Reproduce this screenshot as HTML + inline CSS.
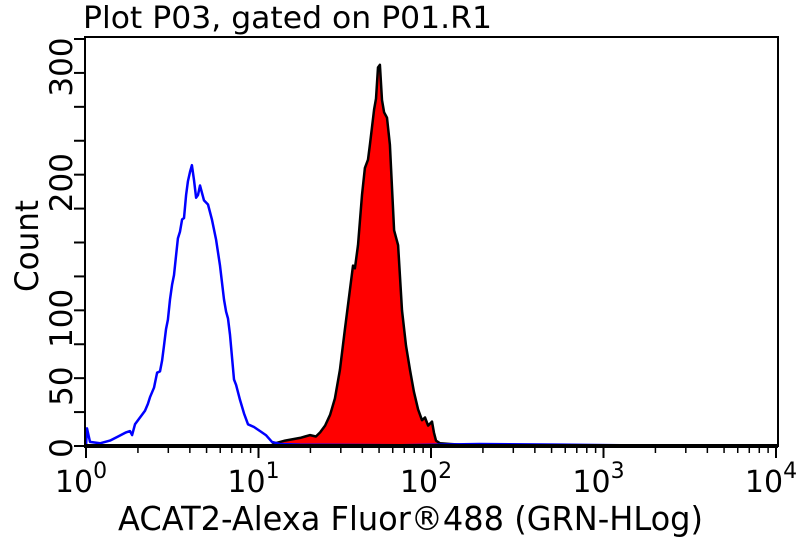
<!DOCTYPE html>
<html><head><meta charset="utf-8"><style>
html,body{margin:0;padding:0;background:#fff;}
svg{display:block;font-family:"DejaVu Sans","Liberation Sans",sans-serif;}
</style></head><body>
<svg id="chart" width="800" height="538" viewBox="0 0 800 538">
<text x="83" y="28" font-size="30" textLength="409" lengthAdjust="spacingAndGlyphs">Plot P03, gated on P01.R1</text>
<text transform="translate(38,246) rotate(-90)" text-anchor="middle" font-size="32" textLength="92" lengthAdjust="spacingAndGlyphs">Count</text>
<text x="118" y="530" font-size="33" textLength="585" lengthAdjust="spacingAndGlyphs">ACAT2-Alexa Fluor®488 (GRN-HLog)</text>
<g id="marks"></g>
<g id="axes"></g>
</svg>
<script>
const blueLogX=[0,0.006,0.023,0.081,0.139,0.186,0.232,0.255,0.267,0.284,0.313,0.342,0.359,0.371,0.394,0.412,0.429,0.441,0.452,0.464,0.475,0.487,0.499,0.510,0.522,0.533,0.545,0.557,0.568,0.580,0.591,0.603,0.614,0.626,0.638,0.649,0.661,0.684,0.707,0.730,0.754,0.777,0.800,0.812,0.823,0.835,0.858,0.870,0.893,0.916,0.939,0.974,1.009,1.043,1.078,1.125,1.24,1.82,2.28,2.75,3.1,3.56,4];
const blueCount=[0,13,3,2,4,7,10,11,8,16,21,26,31,36,43,54,55,63,74,86,93,108,119,126,140,153,158,167,168,185,195,202,207,196,183,185,192,181,178,167,152,133,108,99,94,82,49,45,34,24,16,14,11,8,3,1.5,1,0.5,1.5,1,0.5,0,0];
const redLogX=[1.067,1.096,1.154,1.241,1.27,1.299,1.333,1.357,1.386,1.415,1.443,1.472,1.501,1.530,1.548,1.559,1.577,1.6,1.617,1.635,1.646,1.670,1.681,1.693,1.704,1.716,1.728,1.745,1.762,1.786,1.809,1.832,1.855,1.878,1.901,1.925,1.948,1.965,1.983,2.006,2.017,2.029,2.052,2.11,2.17,2.23];
const redCount=[0,2,4,6,7,8,7,10,15,23,35,56,86,115,133,131,148,185,205,211,222,248,256,279,281,255,246,242,222,159,148,100,74,56,40,27,19,21,15,18,10,4,2,1.5,1,0];
const yTickLabels=[0,50,100,200,300];
const xDecades=[0,1,2,3,4];

const NS="http://www.w3.org/2000/svg";
const L=86,R=776,T=39,B=446;
const xs=v=>L+(v/4)*(R-L);
const ys=c=>B-(c/300)*(B-T);
function mk(tag,attrs,parent){const e=document.createElementNS(NS,tag);for(const k in attrs)e.setAttribute(k,attrs[k]);parent.appendChild(e);return e;}
const marks=document.getElementById('marks'),axes=document.getElementById('axes');

let rd=`M${xs(redLogX[0])},${B}`;
redLogX.forEach((v,i)=>rd+=` L${xs(v).toFixed(1)},${ys(redCount[i]).toFixed(1)}`);
rd+=` L${xs(redLogX[redLogX.length-1])},${B} Z`;
const red=mk('path',{d:rd,fill:'#ff0000',stroke:'#000','stroke-width':2.5,'stroke-linejoin':'round'},marks);



let bd='';
blueLogX.forEach((v,i)=>bd+=(i?' L':'M')+xs(v).toFixed(1)+','+ys(blueCount[i]).toFixed(1));
const blue=mk('path',{d:bd,fill:'none',stroke:'#0000ff','stroke-width':2.5,'stroke-linejoin':'round'},marks);



const frame=mk('rect',{x:85,y:37,width:693,height:409,fill:'none',stroke:'#000','stroke-width':2},axes);


const base=mk('line',{x1:84,x2:778,y1:B,y2:B,stroke:'#000','stroke-width':4},axes);



for(let c=0;c<=300;c+=25){
  const t=mk('line',{x1:74,x2:85,y1:ys(c),y2:ys(c),stroke:'#000','stroke-width':2},axes);
  
  
}
yTickLabels.forEach(v=>{
  const s=String(v);
  const half=s.length*10;
  let cy=ys(v)+(v>0?8:2); if(cy-half<37)cy=37+half;
  const t=mk('text',{transform:`translate(72,${cy}) rotate(-90)`,'text-anchor':'middle','font-size':31},axes);
  t.textContent=s;
  
  
});
xDecades.forEach(d=>{
  const x=xs(d);
  const t=mk('line',{x1:x,x2:x,y1:B,y2:B+12,stroke:'#000','stroke-width':2},axes);
  
  
  if(d<4)for(let m=2;m<=9;m++){
    const xm=xs(d+Math.log10(m));
    const mt=mk('line',{x1:xm,x2:xm,y1:B,y2:B+7,stroke:'#000','stroke-width':1.5},axes);
    
    
  }
  const lb=mk('text',{x:x-5,y:492,'text-anchor':'middle','font-size':30},axes);
  
  
  lb.textContent='10';
  const sp=mk('tspan',{dy:-14,'font-size':22},lb);
  sp.textContent=String(d);
});
</script>
</body></html>
